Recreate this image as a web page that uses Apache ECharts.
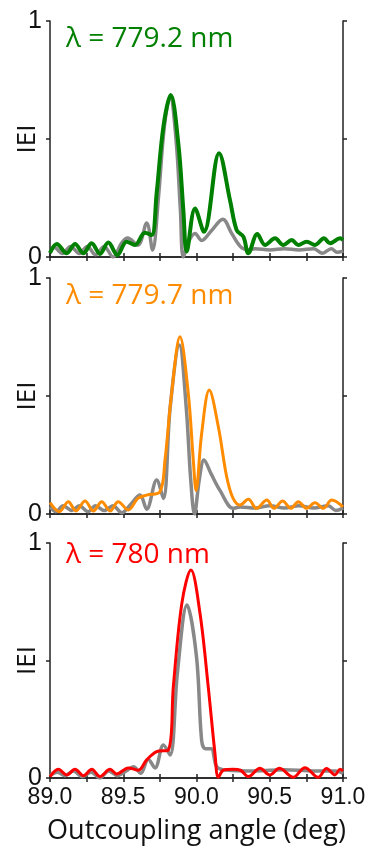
<!DOCTYPE html>
<html>
<head>
<meta charset="utf-8">
<script src="https://cdn.jsdelivr.net/npm/echarts@6/dist/echarts.min.js"></script>
<style>
  html, body { margin: 0; padding: 0; background: #fff; }
  #chart { width: 371px; height: 849px; }
</style>
</head>
<body>
<div id="chart"></div>
<script>
// panel titles
const titles = ['λ = 779.2 nm', 'λ = 779.7 nm', 'λ = 780 nm'];
const xTicks = ['89.0', '89.5', '90.0', '90.5', '91.0'];

// panel 1 (779.2 nm)
const greenAngle = [89.0, 89.046, 89.114, 89.171, 89.228, 89.284, 89.341, 89.398, 89.46, 89.523, 89.58, 89.648, 89.694, 89.728, 89.774, 89.824, 89.876, 89.91, 89.933, 89.99, 90.051, 90.154, 90.229, 90.274, 90.32, 90.354, 90.415, 90.468, 90.536, 90.593, 90.65, 90.695, 90.752, 90.809, 90.87, 90.911, 90.98, 91.0];
const greenE = [0.017, 0.055, 0.016, 0.055, 0.016, 0.058, 0.013, 0.061, 0.008, 0.065, 0.051, 0.103, 0.093, 0.27, 0.552, 0.686, 0.48, 0.2, 0.023, 0.206, 0.107, 0.44, 0.24, 0.114, 0.086, 0.016, 0.097, 0.051, 0.079, 0.051, 0.072, 0.051, 0.065, 0.051, 0.079, 0.058, 0.079, 0.072];
const gray1Angle = [89.0, 89.03, 89.085, 89.14, 89.2, 89.255, 89.31, 89.37, 89.43, 89.49, 89.53, 89.6, 89.66, 89.70, 89.74, 89.78, 89.82, 89.86, 89.89, 89.91, 89.95, 89.99, 90.035, 90.1, 90.18, 90.24, 90.3, 90.35, 90.4, 90.5, 90.6, 90.7, 90.8, 90.86, 90.92, 90.96, 91.0];
const gray1E = [0.02, 0.04, 0.015, 0.045, 0.015, 0.045, 0.01, 0.045, 0.0, 0.06, 0.08, 0.05, 0.144, 0.03, 0.25, 0.55, 0.68, 0.5, 0.2, 0.0, 0.07, 0.10, 0.07, 0.11, 0.16, 0.1, 0.044, 0.03, 0.035, 0.03, 0.035, 0.03, 0.035, 0.016, 0.035, 0.02, 0.025];

// panel 2 (779.7 nm)
const orangeAngle = [89.0, 89.064, 89.125, 89.177, 89.239, 89.296, 89.353, 89.41, 89.466, 89.534, 89.6, 89.66, 89.75, 89.785, 89.83, 89.887, 89.944, 89.978, 89.997, 90.035, 90.087, 90.149, 90.206, 90.25, 90.297, 90.354, 90.41, 90.48, 90.529, 90.588, 90.643, 90.695, 90.752, 90.809, 90.866, 90.923, 91.0];
const orangeE = [0.048, 0.01, 0.052, 0.013, 0.055, 0.013, 0.052, 0.013, 0.052, 0.017, 0.066, 0.08, 0.094, 0.229, 0.51, 0.751, 0.51, 0.229, 0.10, 0.34, 0.525, 0.37, 0.158, 0.066, 0.038, 0.062, 0.024, 0.059, 0.024, 0.055, 0.024, 0.052, 0.024, 0.048, 0.024, 0.059, 0.03];
const gray2Angle = [89.0, 89.04, 89.09, 89.15, 89.2, 89.26, 89.31, 89.37, 89.43, 89.49, 89.55, 89.614, 89.66, 89.728, 89.774, 89.82, 89.883, 89.93, 89.96, 89.986, 90.02, 90.051, 90.1, 90.16, 90.25, 90.3, 90.4, 90.5, 90.6, 90.7, 90.8, 90.9, 90.95, 91.0];
const gray2E = [0.03, 0.01, 0.035, 0.015, 0.035, 0.01, 0.035, 0.015, 0.035, 0.005, 0.04, 0.08, 0.02, 0.144, 0.066, 0.45, 0.716, 0.45, 0.15, 0.0, 0.15, 0.229, 0.17, 0.10, 0.024, 0.03, 0.025, 0.035, 0.025, 0.035, 0.025, 0.035, 0.015, 0.025];

// panel 3 (780 nm)
const redAngle = [89.0, 89.057, 89.114, 89.171, 89.228, 89.285, 89.341, 89.41, 89.455, 89.535, 89.603, 89.66, 89.728, 89.808, 89.842, 89.9, 89.962, 90.024, 90.08, 90.126, 90.149, 90.183, 90.25, 90.3, 90.354, 90.433, 90.5, 90.565, 90.661, 90.74, 90.83, 90.888, 90.945, 90.98, 91.0];
const redE = [0.006, 0.037, 0.013, 0.037, 0.01, 0.037, 0.006, 0.037, 0.017, 0.043, 0.033, 0.077, 0.112, 0.119, 0.389, 0.743, 0.885, 0.70, 0.389, 0.105, 0.003, 0.033, 0.037, 0.033, 0.006, 0.041, 0.013, 0.041, 0.003, 0.044, 0.003, 0.04, 0.013, 0.037, 0.03];
const gray3Angle = [89.0, 89.05, 89.1, 89.16, 89.22, 89.28, 89.34, 89.4, 89.46, 89.52, 89.57, 89.62, 89.67, 89.717, 89.774, 89.82, 89.87, 89.935, 90.0, 90.035, 90.06, 90.1, 90.138, 90.2, 90.4, 90.6, 90.8, 90.95, 91.0];
const gray3E = [0.01, 0.025, 0.01, 0.03, 0.005, 0.025, 0.0, 0.03, 0.01, 0.03, 0.048, 0.02, 0.08, 0.043, 0.14, 0.098, 0.45, 0.736, 0.516, 0.16, 0.125, 0.125, 0.048, 0.034, 0.03, 0.035, 0.03, 0.03, 0.02];

const colors = ['#008000', '#ff8c00', '#ff0000'];
const widths = [4, 3, 3];
const grids = [
  { left: 50, right: 28, top: 21, height: 236, outerBoundsMode: 'none', containLabel: false },
  { left: 50, right: 28, top: 278, height: 236, outerBoundsMode: 'none', containLabel: false },
  { left: 50, right: 28, top: 543, height: 235, outerBoundsMode: 'none', containLabel: false },
];
const titleTops = [25, 282, 541];
const titleSizes = [28, 28, 28];

const zip = (a, b) => a.map((v, i) => [v, b[i]]);
const grayData = [zip(gray1Angle, gray1E), zip(gray2Angle, gray2E), zip(gray3Angle, gray3E)];
const colorData = [zip(greenAngle, greenE), zip(orangeAngle, orangeE), zip(redAngle, redE)];

const axisLine = { show: true, lineStyle: { color: '#222', width: 1.5 } };
const axisTick = { show: true, inside: false, length: 4, lineStyle: { color: '#222', width: 1.5 } };

const xAxis = [];
const yAxis = [];
const series = [];
grids.forEach((g, i) => {
  // bottom x
  xAxis.push({
    gridIndex: i, type: 'value', position: 'bottom', min: 89, max: 91, interval: 0.25,
    axisLine, axisTick, splitLine: { show: false },
    axisLabel: {
      show: i === 2, margin: 8, color: '#111', fontSize: 23, fontFamily: 'Liberation Sans',
      formatter: v => {
        const s = v.toFixed(1);
        return xTicks.indexOf(s) >= 0 && Math.abs(v * 2 - Math.round(v * 2)) < 1e-6 ? s : '';
      },
    },
    name: i === 2 ? 'Outcoupling angle (deg)' : '',
    nameLocation: 'middle', nameGap: 40, nameMoveOverlap: false,
    nameTextStyle: { color: '#111', fontSize: 27, fontFamily: 'Open Sans' },
  });
  // top x
  xAxis.push({
    gridIndex: i, type: 'value', position: 'top', min: 89, max: 91, interval: 0.25,
    axisLine, axisTick, axisLabel: { show: false }, splitLine: { show: false },
  });
  // left y
  yAxis.push({
    gridIndex: i, type: 'value', position: 'left', min: 0, max: 1, interval: 0.5,
    axisLine, axisTick, splitLine: { show: false },
    axisLabel: {
      margin: 8, color: '#111', fontSize: 25, fontFamily: 'Liberation Sans',
      showMinLabel: true, showMaxLabel: true,
      formatter: v => (v === 0.5 ? '' : String(v)),
    },
    name: 'IEI', nameLocation: 'middle', nameGap: 9, nameRotate: 90, nameMoveOverlap: false,
    nameTextStyle: { color: '#111', fontSize: 26, fontFamily: 'Open Sans' },
  });
  // right y
  yAxis.push({
    gridIndex: i, type: 'value', position: 'right', min: 0, max: 1, interval: 0.5,
    axisLine, axisTick, axisLabel: { show: false }, splitLine: { show: false },
  });
  series.push({
    type: 'line', xAxisIndex: i * 2, yAxisIndex: i * 2, data: grayData[i],
    smooth: 0.35, showSymbol: false, lineStyle: { color: '#888888', width: 3.5 }, z: 2,
  });
  series.push({
    type: 'line', xAxisIndex: i * 2, yAxisIndex: i * 2, data: colorData[i],
    smooth: 0.35, showSymbol: false, lineStyle: { color: colors[i], width: widths[i] }, z: 3,
  });
});

const chart = echarts.init(document.getElementById('chart'));
chart.setOption({
  animation: false,
  backgroundColor: '#fff',
  title: titles.map((t, i) => ({
    text: t, left: 66, top: titleTops[i], padding: 0,
    textStyle: { color: colors[i], fontSize: titleSizes[i], fontWeight: 'normal', fontFamily: 'Open Sans' },
  })),
  grid: grids,
  xAxis,
  yAxis,
  series,
});
</script>
</body>
</html>
